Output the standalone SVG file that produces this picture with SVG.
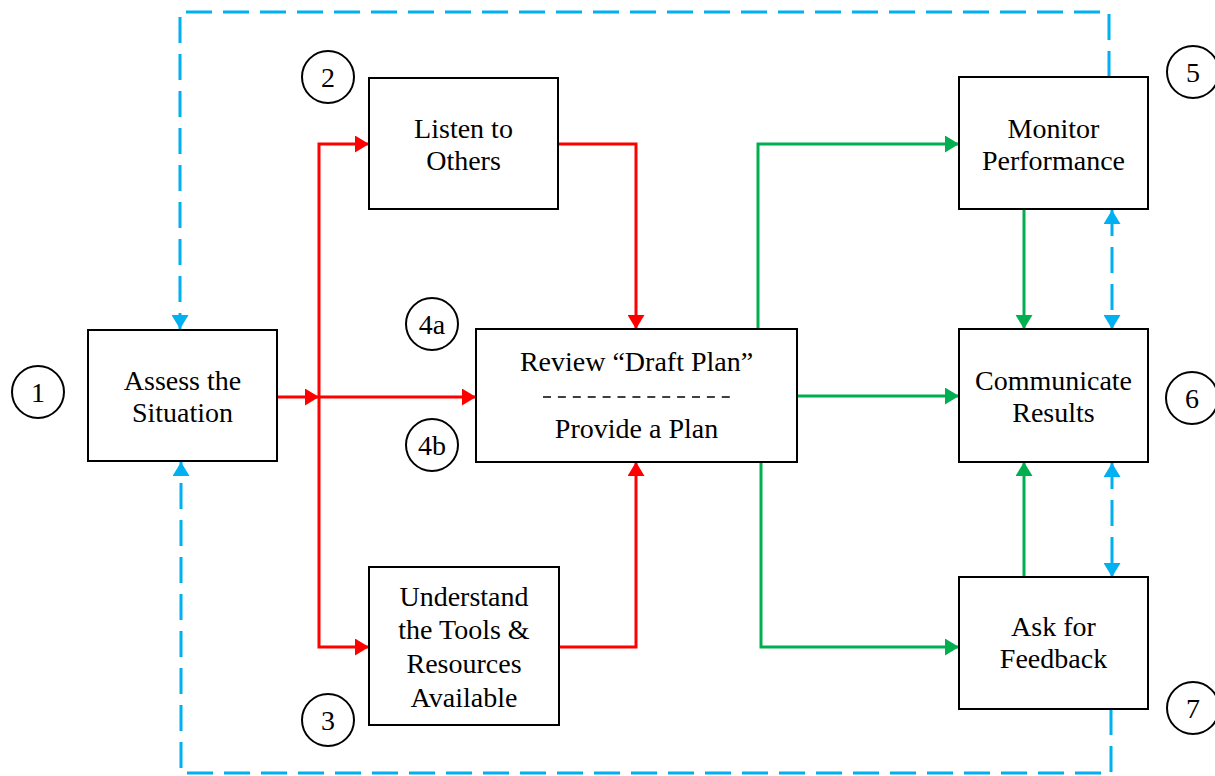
<svg xmlns="http://www.w3.org/2000/svg" width="1215" height="776" viewBox="0 0 1215 776">
<style>
.box{fill:#fff;stroke:#000;stroke-width:2}
.lbl{font-family:"Liberation Serif","Times New Roman",serif;font-size:28px;fill:#000;text-anchor:middle}
.num{font-family:"Liberation Serif","Times New Roman",serif;font-size:28px;fill:#000;text-anchor:middle}
.circ{fill:#fff;stroke:#000;stroke-width:2}
.red{fill:none;stroke:#FF0000;stroke-width:3}
.green{fill:none;stroke:#00B050;stroke-width:3}
.blue{fill:none;stroke:#00B0F0;stroke-width:3;stroke-dasharray:26 11}
</style>
<defs>
<marker id="ar" markerUnits="userSpaceOnUse" markerWidth="15" markerHeight="17" refX="14" refY="8.5" orient="auto-start-reverse"><path d="M0,0 L14,8.5 L0,17 z" fill="#FF0000"/></marker>
<marker id="ag" markerUnits="userSpaceOnUse" markerWidth="15" markerHeight="17" refX="14" refY="8.5" orient="auto-start-reverse"><path d="M0,0 L14,8.5 L0,17 z" fill="#00B050"/></marker>
<marker id="ab" markerUnits="userSpaceOnUse" markerWidth="15" markerHeight="17" refX="14" refY="8.5" orient="auto-start-reverse"><path d="M0,0 L14,8.5 L0,17 z" fill="#00B0F0"/></marker>
</defs>
<rect width="1215" height="776" fill="#fff"/>
<g id="connectors">
<path class="blue" d="M1109,77 V12 H180 V329" marker-end="url(#ab)"/>
<path class="blue" d="M1111,709 V773 H181 V462" marker-end="url(#ab)"/>
<path class="blue" d="M1112,210 V329" marker-start="url(#ab)" marker-end="url(#ab)"/>
<path class="blue" d="M1112,463 V577" marker-start="url(#ab)" marker-end="url(#ab)"/>
<path class="red" d="M277,397 H319" marker-end="url(#ar)"/>
<path class="red" d="M319,397 H476" marker-end="url(#ar)"/>
<path class="red" d="M369,144 H319 V647 H369" marker-start="url(#ar)" marker-end="url(#ar)"/>
<path class="red" d="M558,144 H636 V329" marker-end="url(#ar)"/>
<path class="red" d="M558,647 H636 V462" marker-end="url(#ar)"/>
<path class="green" d="M758,329 V144 H959" marker-end="url(#ag)"/>
<path class="green" d="M797,396 H959" marker-end="url(#ag)"/>
<path class="green" d="M761,462 V647 H959" marker-end="url(#ag)"/>
<path class="green" d="M1024,209 V329" marker-end="url(#ag)"/>
<path class="green" d="M1024,577 V462" marker-end="url(#ag)"/>
</g>
<g id="assess">
<rect class="box" x="88" y="330" width="189" height="131"/>
<text class="lbl" x="182.5" y="390">Assess the</text>
<text class="lbl" x="182.5" y="422">Situation</text>
</g>
<g id="listen">
<rect class="box" x="369" y="78" width="189" height="131"/>
<text class="lbl" x="463.5" y="138">Listen to</text>
<text class="lbl" x="463.5" y="170">Others</text>
</g>
<g id="understand">
<rect class="box" x="369" y="567" width="190" height="158"/>
<text class="lbl" x="464" y="606">Understand</text>
<text class="lbl" x="464" y="639">the Tools &amp;</text>
<text class="lbl" x="464" y="673">Resources</text>
<text class="lbl" x="464" y="707">Available</text>
</g>
<g id="review">
<rect class="box" x="476" y="329" width="321" height="133"/>
<text class="lbl" x="636.5" y="371">Review “Draft Plan”</text>
<line x1="543" y1="397" x2="730" y2="397" stroke="#000" stroke-width="1.6" stroke-dasharray="8 6.9"/>
<text class="lbl" x="636.5" y="438">Provide a Plan</text>
</g>
<g id="monitor">
<rect class="box" x="959" y="77" width="189" height="132"/>
<text class="lbl" x="1053.5" y="138">Monitor</text>
<text class="lbl" x="1053.5" y="170">Performance</text>
</g>
<g id="communicate">
<rect class="box" x="959" y="329" width="189" height="133"/>
<text class="lbl" x="1053.5" y="390">Communicate</text>
<text class="lbl" x="1053.5" y="422">Results</text>
</g>
<g id="feedback">
<rect class="box" x="959" y="577" width="189" height="132"/>
<text class="lbl" x="1053.5" y="636">Ask for</text>
<text class="lbl" x="1053.5" y="668">Feedback</text>
</g>
<g id="n1"><circle class="circ" cx="38" cy="392" r="26"/><text class="num" x="38" y="402">1</text></g>
<g id="n2"><circle class="circ" cx="328" cy="77" r="26"/><text class="num" x="328" y="87">2</text></g>
<g id="n3"><circle class="circ" cx="328" cy="720" r="26"/><text class="num" x="328" y="730">3</text></g>
<g id="n4a"><circle class="circ" cx="432" cy="324" r="26"/><text class="num" x="432" y="334">4a</text></g>
<g id="n4b"><circle class="circ" cx="432" cy="445" r="26"/><text class="num" x="432" y="455">4b</text></g>
<g id="n5"><circle class="circ" cx="1193" cy="72" r="26"/><text class="num" x="1193" y="82">5</text></g>
<g id="n6"><circle class="circ" cx="1192" cy="398" r="26"/><text class="num" x="1192" y="408">6</text></g>
<g id="n7"><circle class="circ" cx="1193" cy="708" r="26"/><text class="num" x="1193" y="718">7</text></g>
</svg>
